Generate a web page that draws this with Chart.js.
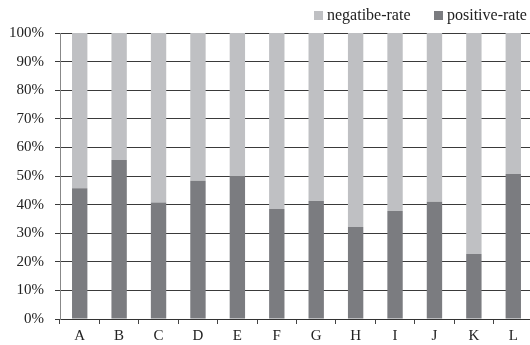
<!DOCTYPE html>
<html lang="en">
<head>
    <meta charset="UTF-8">
    <title>positive / negative rate</title>
    <script src="https://cdn.jsdelivr.net/npm/chart.js"></script>
    <style>
        html, body {
            margin: 0;
            padding: 0;
            background: #fff;
            overflow: hidden;
        }
        #wrap {
            width: 545px;
            height: 345px;
        }
    </style>
</head>
<body>
    <div id="wrap">
        <canvas id="rateChart" width="545" height="345"></canvas>
    </div>

    <script>
        // data
        const categories = ['A', 'B', 'C', 'D', 'E', 'F', 'G', 'H', 'I', 'J', 'K', 'L'];
        const positiveRate = [45.7, 55.6, 40.7, 48.3, 49.8, 38.5, 41.3, 32.2, 37.8, 41, 22.7, 50.7];
        const negativeRate = [54.3, 44.4, 59.3, 51.7, 50.2, 61.5, 58.7, 67.8, 62.2, 59, 77.3, 49.3];
        const yTicks = [0, 10, 20, 30, 40, 50, 60, 70, 80, 90, 100];

        const serif = '"Liberation Serif", "Times New Roman", serif';

        // small legend in the top right corner, squares close to the text
        const topLegend = {
            id: 'topLegend',
            afterDraw(chart) {
                const c = chart.ctx;
                const sets = chart.data.datasets.slice().reverse();
                const boxX = [314, 434];
                c.save();
                c.font = '16px ' + serif;
                c.textBaseline = 'middle';
                c.fillStyle = '#222';
                sets.forEach((ds, i) => {
                    c.fillStyle = ds.backgroundColor;
                    c.fillRect(boxX[i], 11, 9, 9);
                    c.fillStyle = '#222';
                    c.fillText(ds.label, boxX[i] + 13, 15.5);
                });
                c.restore();
            }
        };

        const ctx = document.getElementById('rateChart').getContext('2d');
        new Chart(ctx, {
            type: 'bar',
            data: {
                labels: categories,
                datasets: [{
                    label: 'positive-rate',
                    data: positiveRate,
                    backgroundColor: '#7b7c80',
                    barPercentage: 0.39,
                    categoryPercentage: 1
                }, {
                    label: 'negatibe-rate',
                    data: negativeRate,
                    backgroundColor: '#bfc0c3',
                    barPercentage: 0.39,
                    categoryPercentage: 1
                }]
            },
            plugins: [topLegend],
            options: {
                responsive: false,
                animation: false,
                devicePixelRatio: 1,
                layout: {
                    padding: { left: 0, right: 12, top: 33, bottom: 0 }
                },
                plugins: {
                    tooltip: { enabled: false },
                    legend: { display: false }
                },
                scales: {
                    x: {
                        stacked: true,
                        afterFit: scale => {
                            scale.height = 26;
                        },
                        grid: {
                            drawOnChartArea: false,
                            drawTicks: true,
                            tickLength: 5,
                            color: '#444'
                        },
                        border: { color: '#333', width: 1 },
                        ticks: {
                            color: '#222',
                            padding: 3,
                            font: { family: serif, size: 15 }
                        }
                    },
                    y: {
                        stacked: true,
                        min: 0,
                        max: 100,
                        afterBuildTicks: scale => {
                            scale.ticks = yTicks.map(v => ({ value: v }));
                        },
                        afterFit: scale => {
                            scale.width = 60;
                        },
                        grid: {
                            color: '#3a3a3a',
                            tickLength: 5
                        },
                        border: { color: '#888', width: 1 },
                        ticks: {
                            color: '#222',
                            padding: 11,
                            font: { family: serif, size: 15 },
                            callback: v => v + '%'
                        }
                    }
                }
            }
        });
    </script>
</body>
</html>
